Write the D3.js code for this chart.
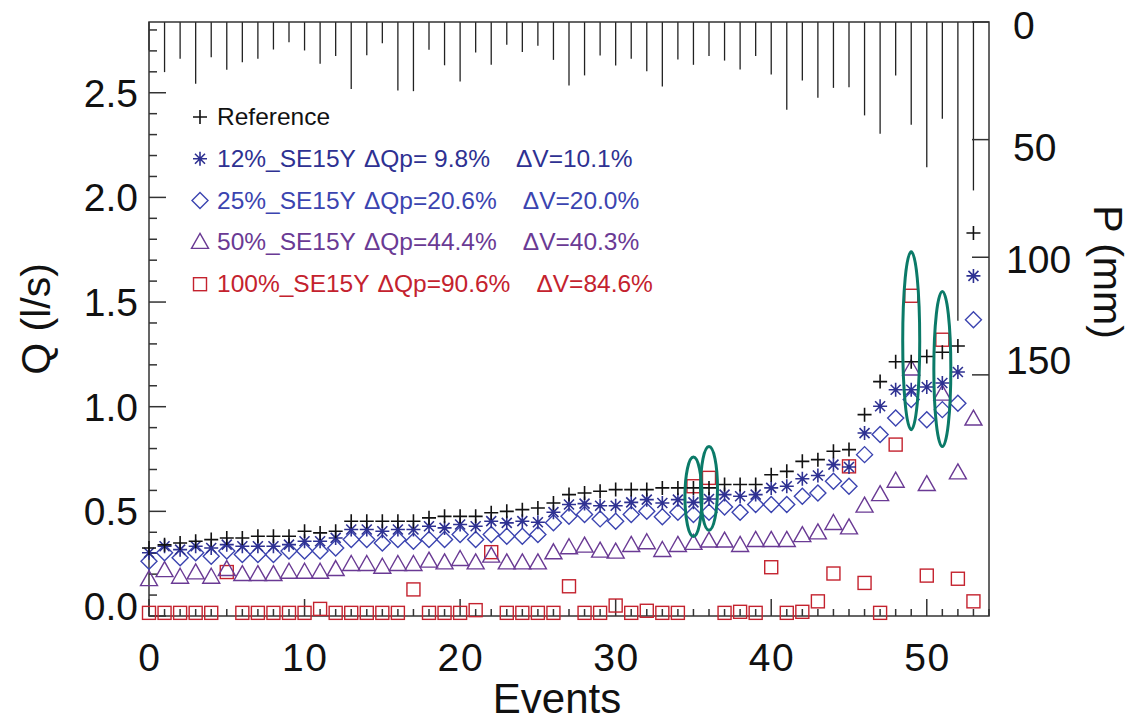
<!DOCTYPE html>
<html>
<head>
<meta charset="utf-8">
<script src="https://cdn.jsdelivr.net/npm/d3@7"></script>
<style>
  body { margin: 0; background: #fff; }
  text { font-family: "Liberation Sans", Arial, sans-serif; }
</style>
</head>
<body>
<div id="chart"></div>
<script>
// events 0..53
var events = d3.range(0, 54);

var rain = [12, 21.3, 15.6, 26.3, 15, 20.3, 17.1, 15.6, 11.7, 8.6, 12.1, 17.8, 14.5, 28.5, 14.1, 9, 29.1, 29.4, 11.8, 18.4, 25.3, 13, 18.2, 9.7, 12.8, 10.1, 16.1,
  27, 22.7, 14.2, 18.5, 15.6, 20.9, 27.4, 15.9, 18.2, 14.5, 16.4, 20.2, 14.5, 22.3, 37.3, 24.9, 32.2, 28, 27.7, 39.7, 47.5, 22.7, 43.7, 61.7, 41.1, 127, 71.6];

var qRef = [0.325, 0.34, 0.349, 0.357, 0.365, 0.373, 0.373, 0.381, 0.381, 0.381, 0.405, 0.397, 0.405, 0.453, 0.453, 0.453, 0.453, 0.453, 0.469, 0.476, 0.476, 0.476, 0.493, 0.50, 0.508, 0.516, 0.540,
  0.58, 0.588, 0.596, 0.604, 0.604, 0.604, 0.612, 0.612, 0.612, 0.612, 0.628, 0.628, 0.628, 0.675, 0.691, 0.739, 0.747, 0.787, 0.795, 0.962, 1.12, 1.215, 1.215, 1.24, 1.26, 1.29, 1.83];

var q12 = [0.302, 0.333, 0.317, 0.333, 0.325, 0.341, 0.333, 0.333, 0.333, 0.341, 0.357, 0.357, 0.373, 0.413, 0.413, 0.405, 0.413, 0.413, 0.429, 0.421, 0.437, 0.429, 0.453, 0.445, 0.453, 0.448, 0.496,
  0.533, 0.537, 0.527, 0.527, 0.543, 0.556, 0.540, 0.556, 0.543, 0.559, 0.580, 0.572, 0.580, 0.612, 0.620, 0.656, 0.671, 0.723, 0.712, 0.874, 1.002, 1.081, 1.081, 1.094, 1.113, 1.166, 1.625];

var q25 = [0.262, 0.302, 0.278, 0.302, 0.286, 0.310, 0.294, 0.294, 0.294, 0.310, 0.310, 0.310, 0.325, 0.365, 0.365, 0.349, 0.365, 0.357, 0.365, 0.365, 0.389, 0.365, 0.389, 0.381, 0.381, 0.389, 0.446,
  0.477, 0.485, 0.464, 0.453, 0.485, 0.501, 0.474, 0.496, 0.485, 0.496, 0.521, 0.496, 0.533, 0.533, 0.533, 0.572, 0.588, 0.644, 0.620, 0.771, 0.867, 0.946, 1.034, 0.938, 0.986, 1.017, 1.415];

var q50 = [0.174, 0.217, 0.185, 0.206, 0.185, 0.222, 0.198, 0.198, 0.198, 0.209, 0.209, 0.209, 0.222, 0.246, 0.246, 0.233, 0.246, 0.246, 0.262, 0.254, 0.270, 0.254, 0.286, 0.254, 0.254, 0.254, 0.302,
  0.326, 0.334, 0.310, 0.305, 0.337, 0.350, 0.313, 0.337, 0.347, 0.358, 0.358, 0.337, 0.361, 0.361, 0.361, 0.384, 0.397, 0.442, 0.421, 0.525, 0.580, 0.644, 1.18, 0.628, 1.06, 0.684, 0.941];

var q100 = [0.015, 0.015, 0.015, 0.015, 0.015, 0.21, 0.015, 0.015, 0.015, 0.015, 0.015, 0.034, 0.015, 0.015, 0.015, 0.015, 0.015, 0.127, 0.015, 0.015, 0.015, 0.028, 0.305, 0.015, 0.015, 0.015, 0.015,
  0.142, 0.015, 0.015, 0.05, 0.015, 0.025, 0.015, 0.015, 0.62, 0.66, 0.015, 0.02, 0.015, 0.233, 0.015, 0.02, 0.07, 0.203, 0.715, 0.158, 0.015, 0.819, 1.53, 0.193, 1.32, 0.178, 0.07];

var legendLabels = [
  ["Reference", "", ""],
  ["12%_SE15Y", "\u0394Qp= 9.8%", "\u0394V=10.1%"],
  ["25%_SE15Y", "\u0394Qp=20.6%", "\u0394V=20.0%"],
  ["50%_SE15Y", "\u0394Qp=44.4%", "\u0394V=40.3%"],
  ["100%_SE15Y", "\u0394Qp=90.6%", "\u0394V=84.6%"]
];

// highlighted events: [event, qLow, qHigh]
var ellipses = [[35, 0.38, 0.76], [36, 0.41, 0.81], [49, 0.89, 1.74], [51, 0.81, 1.55]];

var xTicks = [0, 10, 20, 30, 40, 50];
var yTicks = [0, 0.5, 1.0, 1.5, 2.0, 2.5];
var pTicks = [0, 50, 100, 150];
var pLabelShift = [17, 21, 16, -1];

var W = 1141, H = 722;
var plotL = 149, plotR = 989, plotT = 22, plotB = 616;

var svg = d3.select('#chart').append('svg')
  .attr('width', W).attr('height', H);

var x = d3.scaleLinear().domain([0, 54]).range([plotL, plotR]);
var y = d3.scaleLinear().domain([0, 2.838]).range([plotB, plotT]);
var p = d3.scaleLinear().domain([0, 252.5]).range([plotT, plotB]);

var colors = ['#111', '#2e3192', '#3b44b0', '#6a3a94', '#c4222e'];

// rain bars hanging from the top
svg.append('g').selectAll('line').data(events).enter().append('line')
  .attr('x1', function(d) { return x(d); })
  .attr('x2', function(d) { return x(d); })
  .attr('y1', plotT)
  .attr('y2', function(d) { return p(rain[d]); })
  .attr('stroke', '#222').attr('stroke-width', 1.3);

// axes
var axisG = svg.append('g').attr('stroke', '#333').attr('stroke-width', 1.5);
axisG.append('rect').attr('x', plotL).attr('y', plotT)
  .attr('width', plotR - plotL).attr('height', plotB - plotT).attr('fill', 'none');

d3.range(0, 55).forEach(function(v) {
  var len = v % 10 == 0 ? 17 : 7;
  axisG.append('line').attr('x1', x(v)).attr('x2', x(v))
    .attr('y1', plotB).attr('y2', plotB - len);
});
d3.range(0, 29).forEach(function(i) {
  var v = i / 10;
  var len = i % 5 == 0 ? 17 : 8;
  axisG.append('line').attr('x1', plotL).attr('x2', plotL + len)
    .attr('y1', y(v)).attr('y2', y(v));
});
pTicks.forEach(function(v) {
  axisG.append('line').attr('x1', plotR).attr('x2', plotR - 17)
    .attr('y1', p(v)).attr('y2', p(v));
});

svg.append('g').selectAll('text').data(xTicks).enter().append('text')
  .attr('x', function(d) { return x(d); }).attr('y', 671)
  .attr('text-anchor', 'middle').attr('font-size', 39).attr('fill', '#111')
  .attr('textLength', function(d) { return d < 10 ? 23 : 45; })
  .text(function(d) { return d; });

svg.append('g').selectAll('text').data(yTicks).enter().append('text')
  .attr('x', 138)
  .attr('y', function(d) { return d == 0 ? y(d) + 4 : y(d) + 14; })
  .attr('text-anchor', 'end').attr('font-size', 39).attr('fill', '#111')
  .text(function(d) { return d3.format('.1f')(d); });

svg.append('g').selectAll('text').data(pTicks).enter().append('text')
  .attr('x', function(d) { return d < 100 ? 1013 : 1006; })
  .attr('y', function(d, i) { return p(d) + pLabelShift[i]; })
  .attr('font-size', 39).attr('fill', '#111')
  .text(function(d) { return d; });

svg.append('text').attr('x', 557).attr('y', 713).attr('text-anchor', 'middle')
  .attr('font-size', 42).attr('fill', '#111').text('Events');
svg.append('text').attr('transform', 'translate(50,319) rotate(-90)').attr('text-anchor', 'middle')
  .attr('font-size', 41).attr('fill', '#111').text('Q (l/s)');
svg.append('text').attr('transform', 'translate(1094,272) rotate(90)').attr('text-anchor', 'middle')
  .attr('font-size', 41).attr('fill', '#111').text('P (mm)');

// marker shapes
function drawMarker(g, type, cx, cy, color) {
  if (type == 0) {
    g.append('path').attr('d', 'M' + (cx - 7) + ',' + cy + 'h14M' + cx + ',' + (cy - 7) + 'v14')
      .attr('stroke', color).attr('stroke-width', 1.6).attr('fill', 'none');
  } else if (type == 1) {
    var d = 'M' + (cx - 7) + ',' + cy + 'h14M' + cx + ',' + (cy - 7) + 'v14' +
      'M' + (cx - 5) + ',' + (cy - 5) + 'l10,10M' + (cx - 5) + ',' + (cy + 5) + 'l10,-10';
    g.append('path').attr('d', d).attr('stroke', color).attr('stroke-width', 1.6).attr('fill', 'none');
  } else if (type == 2) {
    g.append('path').attr('d', 'M' + cx + ',' + (cy - 8) + 'l8,8l-8,8l-8,-8z')
      .attr('stroke', color).attr('stroke-width', 1.4).attr('fill', 'none');
  } else if (type == 3) {
    g.append('path').attr('d', 'M' + cx + ',' + (cy - 9) + 'l8.5,15h-17z')
      .attr('stroke', color).attr('stroke-width', 1.4).attr('fill', 'none');
  } else {
    g.append('rect').attr('x', cx - 6.5).attr('y', cy - 6.5).attr('width', 13).attr('height', 13)
      .attr('stroke', color).attr('stroke-width', 1.4).attr('fill', 'none');
  }
}

var series = [qRef, q12, q25, q50, q100];
var order = [4, 3, 2, 1, 0];
order.forEach(function(s) {
  var g = svg.append('g');
  series[s].forEach(function(v, i) {
    drawMarker(g, s, x(i), y(v), colors[s]);
  });
});

// highlight ellipses
svg.append('g').selectAll('ellipse').data(ellipses).enter().append('ellipse')
  .attr('cx', function(d) { return x(d[0]); })
  .attr('cy', function(d) { return (y(d[1]) + y(d[2])) / 2; })
  .attr('rx', 8.5)
  .attr('ry', function(d) { return (y(d[1]) - y(d[2])) / 2; })
  .attr('fill', 'none').attr('stroke', '#0b7a68').attr('stroke-width', 3);

// legend
var lg = svg.append('g');
legendLabels.forEach(function(l, i) {
  var ly = 117 + i * 41.8;
  drawMarker(lg, i, 200, ly, colors[i]);
  var t = lg.append('text').attr('x', 217).attr('y', ly + 8).attr('font-size', 24.5).attr('fill', colors[i]);
  t.append('tspan').text(l[0]);
  if (l[1]) {
    t.append('tspan').attr('dx', 8).text(l[1]);
    t.append('tspan').attr('dx', 26).text(l[2]);
  }
});
</script>
</body>
</html>
